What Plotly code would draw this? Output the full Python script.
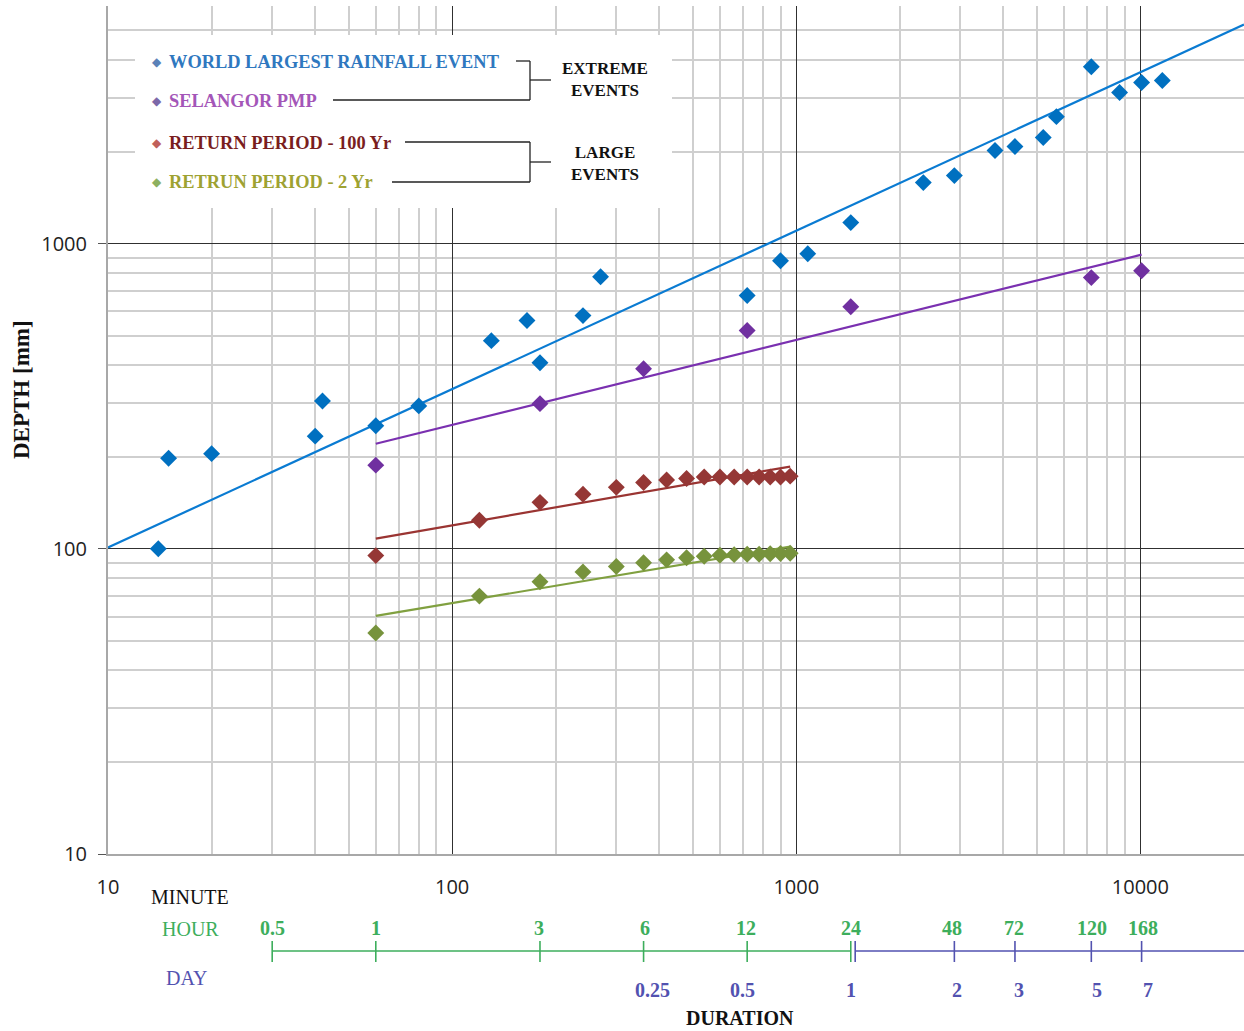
import numpy as np
import plotly.graph_objects as go

# ---------------- data ----------------
world_dur = [14, 15, 20, 40, 42, 60, 80, 130, 165, 180, 240, 270, 720, 900,
             1080, 1440, 2340, 2880, 3780, 4320, 5220, 5700, 7200, 8700, 10080, 11580]
world_depth = [100, 198, 205, 234, 305, 253, 294, 481, 560, 407, 581, 779, 676, 879,
               927, 1172, 1585, 1671, 2018, 2080, 2228, 2607, 3800, 3126, 3374, 3424]

pmp_dur = [60, 180, 360, 720, 1440, 7200, 10080]
pmp_depth = [188, 299, 389, 519, 621, 774, 815]

rp_dur = [60, 120, 180, 240, 300, 360, 420, 480, 540, 600, 660, 720, 780, 840, 900, 960]
rp100_depth = [95, 124, 142, 151, 159, 165, 168, 170, 172, 172, 172, 172, 172, 172, 172, 173]
rp2_depth = [53, 70, 78, 84, 87.5, 90, 92, 93.5, 94.5, 95.3, 95.7, 96, 96, 96.3, 96.5, 96.7]

# power trend lines (end points, duration / depth)
world_trend_dur = [10, 20000]
world_trend_depth = [101, 5220]
pmp_trend_dur = [60, 10080]
pmp_trend_depth = [221, 920]
rp100_trend_dur = [60, 960]
rp100_trend_depth = [108, 186]
rp2_trend_dur = [60, 960]
rp2_trend_depth = [60.3, 101.7]

x_ticks = [10, 100, 1000, 10000]
y_ticks = [10, 100, 1000]

hour_ticks_min = [30, 60, 180, 360, 720, 1440, 2880, 4320, 7200, 10080]
hour_labels = ['0.5', '1', '3', '6', '12', '24', '48', '72', '120', '168']
day_ticks_min = [360, 720, 1440, 2880, 4320, 7200, 10080]
day_labels = ['0.25', '0.5', '1', '2', '3', '5', '7']

X_RANGE = [10, 20000]
Y_RANGE = [10, 6000]

# ---------------- styling ----------------
W, H = 1244, 1031
H_LAYOUT = H + 14
ML, MR, MT, MB = 108, 0, 6, 0
PW, PH = W - ML - MR, H - MT - MB

BLUE = '#0070C0'
PURPLE = '#7030A0'
RED = '#953735'
GREEN = '#77933C'
HOUR_GREEN = '#3DAE5C'
DAY_PURPLE = '#5252B0'
SERIF = 'Liberation Serif'
SANS = 'Open Sans'

hour_label_shift = [0, 0, -1, 1, -1, 0, -2, -1, 1, 1]
day_label_shift = [9, -5, 0, 3, 4, 6, 6]


def fx(px):
    return (px - ML) / PW


def fy(py):
    return (H - MB - py) / PH


fig = go.Figure()

series = [
    (world_dur, world_depth, world_trend_dur, world_trend_depth, BLUE, '#0A7BD2'),
    (pmp_dur, pmp_depth, pmp_trend_dur, pmp_trend_depth, PURPLE, '#7A30B0'),
    (rp_dur, rp100_depth, rp100_trend_dur, rp100_trend_depth, RED, '#9A3432'),
    (rp_dur, rp2_depth, rp2_trend_dur, rp2_trend_depth, GREEN, '#80A040'),
]
for xd, yd, tx, ty, mc, lc in series:
    fig.add_trace(go.Scatter(x=tx, y=ty, mode='lines',
                             line=dict(color=lc, width=2.2),
                             showlegend=False, hoverinfo='skip'))
for xd, yd, tx, ty, mc, lc in series:
    fig.add_trace(go.Scatter(x=xd, y=yd, mode='markers',
                             marker=dict(symbol='diamond', size=13, color=mc,
                                         line=dict(width=0)),
                             showlegend=False))


def minor_vals(lo_dec, hi_dec, top=None):
    vals = []
    for d in range(lo_dec, hi_dec + 1):
        for m in range(2, 10):
            v = m * 10 ** d
            if top is None or v <= top:
                vals.append(v)
    return vals


x_minor = minor_vals(1, 4, 20000)
y_minor = minor_vals(1, 3, 6000)

fig.update_xaxes(
    type='log', range=[np.log10(X_RANGE[0]), np.log10(X_RANGE[1])],
    tickvals=x_ticks, ticktext=[str(v) for v in x_ticks],
    showgrid=True, gridcolor='#303030', gridwidth=1.3,
    minor=dict(tickvals=x_minor, showgrid=True, gridcolor='#CFCFCF', gridwidth=1.5, ticks=''),
    ticks='', ticklabelstandoff=14,
    tickfont=dict(family=SANS, size=20, color='#222222'),
    showline=True, linecolor='#A8A8A8', linewidth=1.5,
    zeroline=False, domain=[0, 1], anchor='y'
)
fig.update_yaxes(
    type='log', range=[np.log10(Y_RANGE[0]), np.log10(Y_RANGE[1]) + 0.0005],
    tickvals=y_ticks, ticktext=[str(v) for v in y_ticks],
    showgrid=True, gridcolor='#303030', gridwidth=1.3,
    minor=dict(tickvals=y_minor, showgrid=True, gridcolor='#CFCFCF', gridwidth=1.5, ticks=''),
    ticks='outside', ticklen=8, tickcolor='#555555', tickwidth=1.2,
    ticklabelstandoff=7,
    tickfont=dict(family=SANS, size=20, color='#222222'),
    showline=True, linecolor='#A8A8A8', linewidth=2,
    zeroline=False, domain=[fy(854), 1]
)

shapes = []
# legend background box
shapes.append(dict(type='rect', xref='paper', yref='paper',
                   x0=fx(135), x1=fx(672), y0=fy(208), y1=fy(35),
                   fillcolor='white', line=dict(width=0), layer='above'))


def pline(x0, y0, x1, y1, color='#222222', width=1.3):
    shapes.append(dict(type='line', xref='paper', yref='paper',
                       x0=fx(x0), y0=fy(y0), x1=fx(x1), y1=fy(y1),
                       line=dict(color=color, width=width), layer='above'))


pline(516, 61, 530, 61); pline(530, 61, 530, 100); pline(333, 100, 530, 100); pline(530, 80, 551, 80)
pline(405, 142, 530, 142); pline(530, 142, 530, 182); pline(392, 182, 530, 182); pline(530, 162, 551, 162)

# hour / day duration scale (drawn on the main x scale)
LINE_Y, TICK_TOP, TICK_BOT = 951, 941, 962
shapes.append(dict(type='line', xref='x', yref='paper', x0=hour_ticks_min[0], x1=1440,
                   y0=fy(LINE_Y), y1=fy(LINE_Y), line=dict(color=HOUR_GREEN, width=1.6)))
shapes.append(dict(type='line', xref='x', yref='paper', x0=1440 * 1.03, x1=X_RANGE[1],
                   y0=fy(LINE_Y), y1=fy(LINE_Y), line=dict(color=DAY_PURPLE, width=1.6)))
for v in hour_ticks_min:
    col = HOUR_GREEN if v <= 1440 else DAY_PURPLE
    shapes.append(dict(type='line', xref='x', yref='paper', x0=v, x1=v,
                       y0=fy(TICK_BOT), y1=fy(TICK_TOP), line=dict(color=col, width=1.6)))
shapes.append(dict(type='line', xref='x', yref='paper', x0=1440 * 1.03, x1=1440 * 1.03,
                   y0=fy(TICK_BOT), y1=fy(TICK_TOP), line=dict(color=DAY_PURPLE, width=1.6)))

ann = []
for v, t, s in zip(hour_ticks_min, hour_labels, hour_label_shift):
    ann.append(dict(x=np.log10(v), y=fy(928), xref='x', yref='paper', text='<b>%s</b>' % t,
                    showarrow=False, xshift=s,
                    font=dict(family=SERIF, size=20, color=HOUR_GREEN),
                    xanchor='center', yanchor='middle'))
for v, t, s in zip(day_ticks_min, day_labels, day_label_shift):
    ann.append(dict(x=np.log10(v), y=fy(990), xref='x', yref='paper', text='<b>%s</b>' % t,
                    showarrow=False, xshift=s,
                    font=dict(family=SERIF, size=20, color=DAY_PURPLE),
                    xanchor='center', yanchor='middle'))


def pann(px, py, text, size=19, color='#111111', xanchor='center', angle=0):
    ann.append(dict(x=fx(px), y=fy(py), xref='paper', yref='paper', text=text,
                    showarrow=False, textangle=angle,
                    font=dict(family=SERIF, size=size, color=color),
                    xanchor=xanchor, yanchor='middle'))


pann(190, 897, 'MINUTE', 20)
pann(190, 929, 'HOUR', 20, HOUR_GREEN)
pann(187, 978, 'DAY', 20, DAY_PURPLE)
pann(740, 1018, '<b>DURATION</b>', 20)
pann(21, 390, '<b>DEPTH [mm]</b>', 23, angle=-90)

legend_items = [
    ('WORLD LARGEST RAINFALL EVENT', '#2F78BF', '#5B82B8', 62),
    ('SELANGOR PMP', '#A456B8', '#7C68A8', 101),
    ('RETURN PERIOD - 100 Yr', '#7A1E1E', '#C0605A', 143),
    ('RETRUN PERIOD - 2 Yr', '#9EA232', '#8DB060', 182),
]
for txt, tc, dc, py in legend_items:
    pann(150, py, '◆', 12, dc, xanchor='left')
    pann(167, py, '<b>%s</b>' % txt, 18.4, tc, xanchor='left')

pann(605, 80, '<b>EXTREME<br>EVENTS</b>', 17)
pann(605, 163, '<b>LARGE<br>EVENTS</b>', 17)

fig.update_layout(
    width=W, height=H_LAYOUT,
    margin=dict(l=ML, r=MR, t=MT, b=MB + (H_LAYOUT - H), pad=0),
    paper_bgcolor='white', plot_bgcolor='white',
    shapes=shapes, annotations=ann, showlegend=False,
)

page_fix = (
    "document.documentElement.style.margin='0px';"
    "document.documentElement.style.overflow='hidden';"
    "document.body.style.margin='0px';"
    "document.body.style.padding='0px';"
    "document.body.style.overflow='hidden';"
    "document.body.style.height='%dpx';" % H
)
fig.write_html('out.html', config={'displayModeBar': False}, post_script=page_fix)
